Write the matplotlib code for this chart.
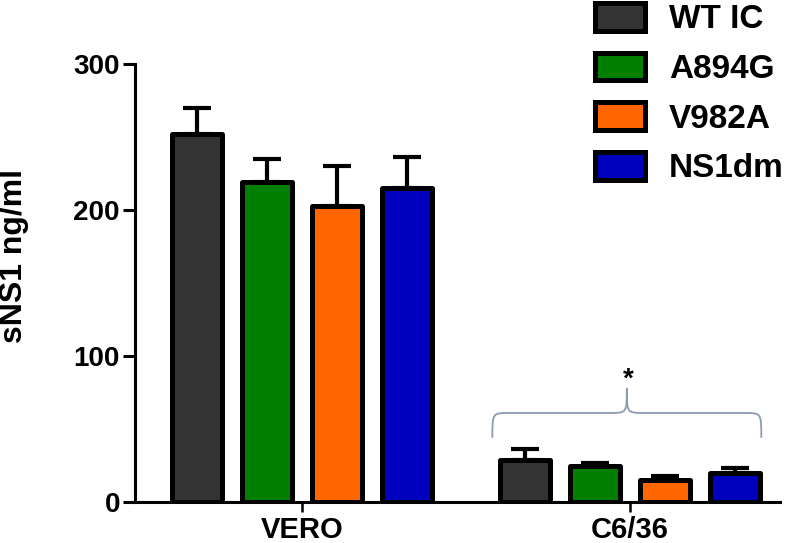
import numpy as np
import matplotlib
matplotlib.use("Agg")
import matplotlib.pyplot as plt
from matplotlib.path import Path
from matplotlib.patches import PathPatch, Patch

plt.rcParams['font.family'] = ['Liberation Sans', 'DejaVu Sans']
plt.rcParams['font.weight'] = 'bold'

# data
groups = ['VERO', 'C6/36']
series = ['WT IC', 'A894G', 'V982A', 'NS1dm']
colors = ['#333333', '#007f00', '#ff6600', '#0000bf']
means = [[252, 29],
         [219, 25],
         [203, 15],
         [215, 20]]
errs = [[18, 7],
        [16, 2],
        [27, 3],
        [21, 3]]

fig = plt.figure(figsize=(8, 5.43), dpi=100)
ax = fig.add_axes([0.169, 0.0755, 0.806, 0.8065])

x = np.arange(len(groups))
width = 0.152
step = 0.213
for i, name in enumerate(series):
    xs = x + (i - 1.5) * step
    ax.bar(xs, means[i], width, color=colors[i], edgecolor='black',
           linewidth=3.6, label=name, zorder=3, joinstyle='round')
    ax.errorbar(xs, means[i], yerr=[[0] * len(groups), errs[i]], fmt='none',
                ecolor='black', elinewidth=3, capsize=10, capthick=3,
                zorder=2)

ax.set_xlim(-0.509, 1.457)
ax.set_ylim(0, 300)
ax.set_yticks([0, 100, 200, 300])
ax.set_xticks(x)
ax.set_xticklabels(groups, fontsize=21, fontweight='bold')
ax.tick_params(axis='x', length=7, width=1.8, pad=3)
ax.tick_params(axis='y', length=9, width=2.2, labelsize=20, pad=2)
for t in ax.get_yticklabels():
    t.set_fontweight('bold')
ax.set_ylabel('sNS1 ng/ml', fontsize=23, fontweight='bold')
ax.yaxis.set_label_coords(-0.165, 0.562)
for s in ['top', 'right']:
    ax.spines[s].set_visible(False)
for s in ['left', 'bottom']:
    ax.spines[s].set_linewidth(2.2)

# curly brace over C6/36 group
x0, x1 = 0.58, 1.40
xm = (x0 + x1) / 2
ylow, ymid, ytop = 44, 61, 78
verts = [(x0, ylow), (x0, ymid), (x0, ymid), (x0 + 0.05, ymid),
         (xm - 0.05, ymid), (xm, ymid), (xm, ymid), (xm, ytop),
         (xm, ymid), (xm, ymid), (xm + 0.05, ymid),
         (x1 - 0.05, ymid), (x1, ymid), (x1, ymid), (x1, ylow)]
codes = [Path.MOVETO, Path.CURVE4, Path.CURVE4, Path.CURVE4,
         Path.LINETO, Path.CURVE4, Path.CURVE4, Path.CURVE4,
         Path.CURVE4, Path.CURVE4, Path.CURVE4,
         Path.LINETO, Path.CURVE4, Path.CURVE4, Path.CURVE4]
ax.add_patch(PathPatch(Path(verts, codes), facecolor='none',
                       edgecolor='#8e9bb0', linewidth=1.3, zorder=4))
ax.text(xm + 0.005, 84, '*', ha='center', va='center', fontsize=20,
        fontweight='bold')

handles = [Patch(facecolor=c, edgecolor='black', linewidth=3.6) for c in colors]
fig.legend(handles, series, loc='upper left', bbox_to_anchor=(0.706, 1.05),
           frameon=False, prop={'size': 24, 'weight': 'bold'},
           handlelength=1.5, handleheight=0.9, labelspacing=0.52,
           handletextpad=0.72)

fig.savefig('out.png', dpi=100)
